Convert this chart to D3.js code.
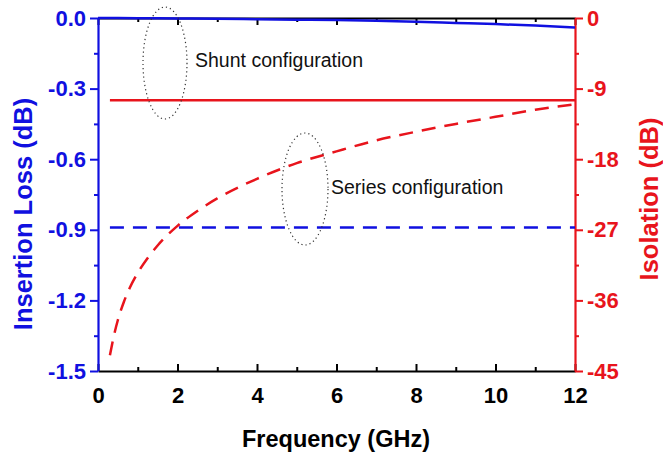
<!DOCTYPE html>
<html><head><meta charset="utf-8">
<script src="https://cdn.jsdelivr.net/npm/d3@7"></script>
<style>
body{margin:0;background:#fff;}
text{font-family:"Liberation Sans",Arial,sans-serif;}
</style></head>
<body><svg id="c" width="663" height="453"></svg>
<script>
// Data
const freqTicks = [0, 2, 4, 6, 8, 10, 12];
const lossTicks = [0.0, -0.3, -0.6, -0.9, -1.2, -1.5];
const isoTicks = [0, -9, -18, -27, -36, -45];

const shuntLossFreq = [0, 1, 2, 3, 4, 5, 6, 7, 8, 9, 10, 11, 12];
const shuntLoss = [0, -0.001, -0.002, -0.003, -0.005, -0.007, -0.009, -0.012, -0.016, -0.021, -0.026, -0.032, -0.04];
const seriesLossFreq = [0.3, 12];
const seriesLoss = [-0.89, -0.89];
const shuntIsoFreq = [0.3, 12];
const shuntIso = [-10.5, -10.5];
const seriesIsoFreq = [0.3, 0.4, 0.5, 0.65, 0.8, 1, 1.25, 1.5, 2, 2.5, 3, 4, 5, 6, 7, 8, 9, 10, 11, 12];
const seriesIso = [-43.0, -40.5, -38.5, -36.2, -34.4, -32.5, -30.6, -29.0, -26.5, -24.6, -23.0, -20.5, -18.5, -17.0, -15.6, -14.5, -13.5, -12.6, -11.7, -11.0];

const BLUE = "#1010e0", RED = "#e8141c";
const L = 98, R = 575, T = 18, B = 371;
const svg = d3.select("#c");
const x = d3.scaleLinear().domain([0, 12]).range([L, R]);
const yL = d3.scaleLinear().domain([-1.5, 0]).range([B, T]);
const yR = d3.scaleLinear().domain([-45, 0]).range([B, T]);

// minor ticks
const minorX = d3.range(1, 12, 2);
const minorL = [-0.15, -0.45, -0.75, -1.05, -1.35];
const minorR = [-4.5, -13.5, -22.5, -31.5, -40.5];

function styleAxis(g, color, fontColor) {
  g.select(".domain").attr("stroke", color).attr("stroke-width", 2.2);
  g.selectAll(".tick line").attr("stroke", color).attr("stroke-width", 2);
  g.selectAll(".tick text").attr("fill", fontColor).attr("font-size", 22).attr("font-weight", "bold")
    .attr("font-family", "'Liberation Sans', Arial, sans-serif");
}

// bottom axis (ticks inward)
const gb = svg.append("g").attr("transform", `translate(0,${B})`)
  .call(d3.axisBottom(x).tickValues(freqTicks).tickSize(-7).tickSizeOuter(0).tickPadding(16).tickFormat(d3.format("d")));
styleAxis(gb, "#000", "#000");
gb.selectAll(".tick text").attr("dy", "0.71em");
svg.append("g").attr("transform", `translate(0,${B})`)
  .call(d3.axisBottom(x).tickValues(minorX).tickSize(-4).tickSizeOuter(0).tickFormat(""))
  .call(g => { g.select(".domain").remove(); g.selectAll(".tick line").attr("stroke", "#000").attr("stroke-width", 2); });

// top axis (ticks inward)
const gt = svg.append("g").attr("transform", `translate(0,${T})`)
  .call(d3.axisTop(x).tickValues(freqTicks).tickSize(-7).tickSizeOuter(0).tickFormat(""));
styleAxis(gt, "#000", "#000");
svg.append("g").attr("transform", `translate(0,${T})`)
  .call(d3.axisTop(x).tickValues(minorX).tickSize(-4).tickSizeOuter(0).tickFormat(""))
  .call(g => { g.select(".domain").remove(); g.selectAll(".tick line").attr("stroke", "#000").attr("stroke-width", 2); });

// left axis
const gl = svg.append("g").attr("transform", `translate(${L},0)`)
  .call(d3.axisLeft(yL).tickValues(lossTicks).tickSize(8).tickSizeOuter(0).tickPadding(4).tickFormat(d3.format(".1f")));
styleAxis(gl, BLUE, BLUE);
gl.selectAll(".tick text").text(d => d3.format(".1f")(d).replace("−", "-"));
svg.append("g").attr("transform", `translate(${L},0)`)
  .call(d3.axisLeft(yL).tickValues(minorL).tickSize(4).tickSizeOuter(0).tickFormat(""))
  .call(g => { g.select(".domain").remove(); g.selectAll(".tick line").attr("stroke", BLUE).attr("stroke-width", 2); });

// right axis
const gr = svg.append("g").attr("transform", `translate(${R},0)`)
  .call(d3.axisRight(yR).tickValues(isoTicks).tickSize(8).tickSizeOuter(0).tickPadding(4).tickFormat(d3.format("d")));
styleAxis(gr, RED, RED);
gr.selectAll(".tick text").text(d => String(d));
svg.append("g").attr("transform", `translate(${R},0)`)
  .call(d3.axisRight(yR).tickValues(minorR).tickSize(4).tickSizeOuter(0).tickFormat(""))
  .call(g => { g.select(".domain").remove(); g.selectAll(".tick line").attr("stroke", RED).attr("stroke-width", 2); });

// lines
const lineL = d3.line().x(d => x(d[0])).y(d => yL(d[1]));
const lineR = d3.line().x(d => x(d[0])).y(d => yR(d[1])).curve(d3.curveMonotoneX);
svg.append("path").datum(d3.zip(shuntLossFreq, shuntLoss)).attr("d", lineL.curve(d3.curveMonotoneX))
  .attr("fill", "none").attr("stroke", BLUE).attr("stroke-width", 2.5);
svg.append("path").datum(d3.zip(seriesLossFreq, seriesLoss)).attr("d", lineL)
  .attr("fill", "none").attr("stroke", BLUE).attr("stroke-width", 2.5).attr("stroke-dasharray", "14,9");
svg.append("path").datum(d3.zip(shuntIsoFreq, shuntIso)).attr("d", lineR)
  .attr("fill", "none").attr("stroke", RED).attr("stroke-width", 2.5);
svg.append("path").datum(d3.zip(seriesIsoFreq, seriesIso)).attr("d", lineR)
  .attr("fill", "none").attr("stroke", RED).attr("stroke-width", 2.5).attr("stroke-dasharray", "14,9");

// ellipses
svg.append("ellipse").attr("cx", 165).attr("cy", 63).attr("rx", 22).attr("ry", 56)
  .attr("fill", "none").attr("stroke", "#333").attr("stroke-width", 1.2).attr("stroke-dasharray", "1.2,3");
svg.append("ellipse").attr("cx", 305).attr("cy", 189).attr("rx", 23).attr("ry", 56)
  .attr("fill", "none").attr("stroke", "#333").attr("stroke-width", 1.2).attr("stroke-dasharray", "1.2,3");

// annotations
svg.append("text").attr("x", 195).attr("y", 67).attr("font-size", 19.5).attr("fill", "#111").text("Shunt configuration");
svg.append("text").attr("x", 331).attr("y", 194).attr("font-size", 19.5).attr("fill", "#111").text("Series configuration");

// axis titles
svg.append("text").attr("x", 336).attr("y", 447).attr("text-anchor", "middle")
  .attr("font-size", 23.5).attr("font-weight", "bold").attr("fill", "#000").text("Frequency (GHz)");
svg.append("text").attr("transform", "translate(32,214) rotate(-90)").attr("text-anchor", "middle")
  .attr("font-size", 25.5).attr("font-weight", "bold").attr("fill", BLUE).text("Insertion Loss (dB)");
svg.append("text").attr("transform", "translate(658,199) rotate(-90)").attr("text-anchor", "middle")
  .attr("font-size", 25.5).attr("font-weight", "bold").attr("fill", RED).text("Isolation (dB)");
</script></body></html>
